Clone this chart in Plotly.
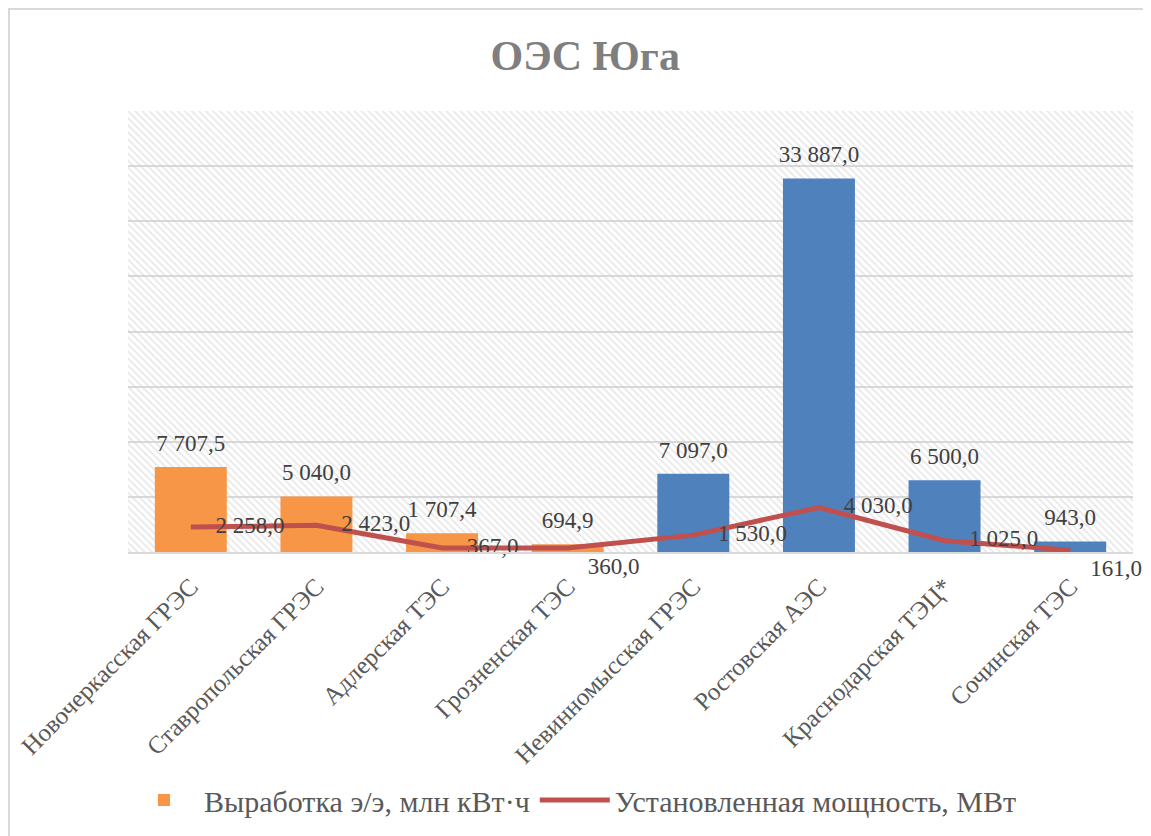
import plotly.graph_objects as go

categories = ["Новочеркасская ГРЭС", "Ставропольская ГРЭС", "Адлерская ТЭС", "Грозненская ТЭС",
              "Невинномысская ГРЭС", "Ростовская АЭС", "Краснодарская ТЭЦ*", "Сочинская ТЭС"]
generation = [7707.5, 5040.0, 1707.4, 694.9, 7097.0, 33887.0, 6500.0, 943.0]
capacity = [2258.0, 2423.0, 367.0, 360.0, 1530.0, 4030.0, 1025.0, 161.0]
bar_colors = ["#F79646"] * 4 + ["#4F81BD"] * 4
line_text_pos = ["middle right", "middle right", "middle right", "bottom right",
                 "middle right", "middle right", "middle right", "bottom right"]
# invisible marker sizes / indents used only to offset the line's value labels
line_label_pad = [38 if p == "middle right" else 12 for p in line_text_pos]
NB = "\u00a0"
line_label_tpl = ["%{y:,.1f}" if p == "middle right" else NB * 2 + "%{y:,.1f}"
                  for p in line_text_pos]

FONT = "Liberation Serif"

W, H = 1143, 828
L, R, T, B = 120, 18, 103, 284
PW, PH = W - L - R, H - T - B

fig = go.Figure()

# hatched plot-area background (decoration on hidden base axes)
fig.add_trace(go.Scatter(
    x=[0, 1, 1, 0, 0], y=[0, 0, 1, 1, 0], xaxis="x", yaxis="y",
    mode="lines", line=dict(width=0), fill="toself", fillcolor="rgba(0,0,0,0)",
    fillpattern=dict(shape="\\", fgcolor="#d2d2d2", bgcolor="rgba(255,255,255,0)",
                     size=5, solidity=0.35),
    hoverinfo="skip", showlegend=False))

fig.add_trace(go.Bar(
    x=categories, y=generation, xaxis="x2", yaxis="y2",
    name="Выработка э/э, млн кВт·ч",
    marker=dict(color=bar_colors, line=dict(width=0))))

fig.add_trace(go.Scatter(
    x=categories, y=capacity, xaxis="x2", yaxis="y2",
    name="Установленная мощность, МВт",
    mode="lines+markers+text", line=dict(color="#C0504D", width=5),
    marker=dict(size=line_label_pad, color="rgba(0,0,0,0)", line=dict(width=0)),
    texttemplate=line_label_tpl, textposition=line_text_pos,
    textfont=dict(family=FONT, size=23, color="#404040"),
    cliponaxis=False))

# bar value labels, placed above each bar top
fig.add_trace(go.Scatter(
    x=categories, y=generation, xaxis="x2", yaxis="y2",
    mode="markers+text", marker=dict(size=15, color="rgba(0,0,0,0)", line=dict(width=0)),
    texttemplate="%{y:,.1f}", textposition="top center",
    textfont=dict(family=FONT, size=23, color="#404040"),
    hoverinfo="skip", showlegend=False, cliponaxis=False))

fig.update_layout(
    width=W, height=H,
    margin=dict(l=L, r=R, t=T, b=B, autoexpand=False),
    paper_bgcolor="white", plot_bgcolor="white",
    separators=", ",
    font=dict(family=FONT, color="#595959"),
    title=dict(text="<b>ОЭС Юга</b>", x=0.505, xanchor="center", xref="container",
               y=0.943, yanchor="middle", yref="container",
               font=dict(family=FONT, size=42, color="#7F7F7F")),
    bargap=0.427,
    showlegend=True,
    legend=dict(orientation="h", x=(565 - L) / PW, xanchor="center", y=(H - B - 792) / PH,
                yanchor="middle",
                font=dict(family=FONT, size=30, color="#595959"),
                traceorder="normal", itemwidth=70),
    xaxis=dict(range=[0, 1], visible=False, fixedrange=True),
    yaxis=dict(range=[0, 1], visible=False, fixedrange=True),
    xaxis2=dict(overlaying="x", anchor="y2", type="category", side="bottom",
                range=[-0.5, len(categories) - 0.5],
                tickangle=-45, tickfont=dict(family=FONT, size=25, color="#595959"),
                showline=True, linecolor="#d9d9d9", linewidth=2, automargin=False,
                ticks="", showgrid=False, ticklabelstandoff=8),
    yaxis2=dict(overlaying="y", anchor="x2", range=[0, 40000], dtick=5000,
                showticklabels=False, showgrid=True, gridcolor="#d9d9d9", gridwidth=1.5,
                zeroline=False, showline=False, ticks="", automargin=False),
    shapes=[dict(type="rect", xref="paper", yref="paper",
                 x0=(1 - L) / PW, x1=1.2, y0=-0.8, y1=(H - B - 1) / PH,
                 line=dict(color="#d9d9d9", width=2), fillcolor="rgba(0,0,0,0)",
                 layer="below")],
)

fig.write_html("out.html")
